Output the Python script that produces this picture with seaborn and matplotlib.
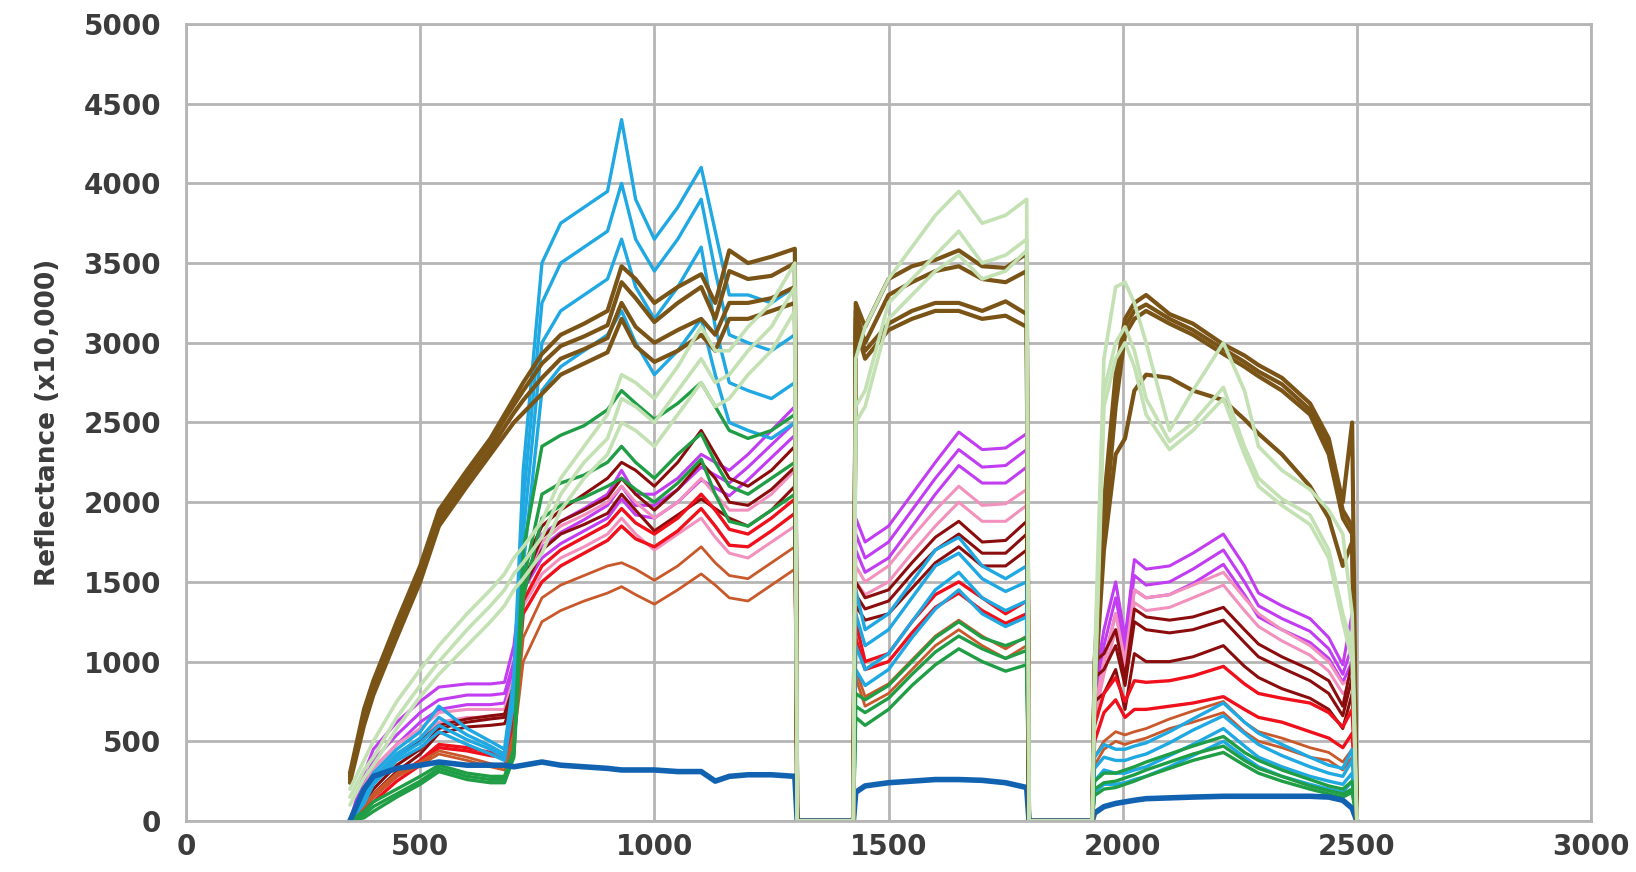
import matplotlib
matplotlib.use("Agg")
import matplotlib.pyplot as plt
import seaborn as sns
import pandas as pd

# wavelength knots (nm) of the three measured windows
WL_VNIR = [350, 380, 400, 450, 500, 540, 600, 650, 680, 700, 720, 760, 800,
           850, 900, 930, 960, 1000, 1050, 1100, 1130, 1160, 1200, 1250, 1300]
WL_SWIR1 = [1430, 1450, 1500, 1550, 1600, 1650, 1700, 1750, 1795]
WL_SWIR2 = [1940, 1960, 1985, 2005, 2025, 2050, 2100, 2150, 2215, 2260,
            2290, 2340, 2400, 2440, 2470, 2490, 2500]
# water absorption bands are set to zero
GAP1_WL = [1305, 1425]
GAP2_WL = [1800, 1935]
GAP_REFL = [0, 0]

# reflectance (x10,000), one row per spectrum
DARKBLUE_VNIR = [[0, 200, 280, 330, 350, 370, 350, 350, 350, 340, 350, 370, 350,
                  340, 330, 320, 320, 320, 310, 310, 250, 280, 290, 290, 280]]
DARKBLUE_SWIR1 = [[180, 220, 240, 250, 260, 260, 255, 240, 210]]
DARKBLUE_SWIR2 = [[50, 90, 110, 120, 130, 140, 145, 150, 155, 155, 155, 155, 155, 150, 130, 80, 0]]

BROWN_VNIR = [
    [300, 700, 880, 1250, 1600, 1950, 2200, 2400, 2550, 2650, 2750, 2930, 3050,
     3120, 3200, 3480, 3400, 3250, 3350, 3430, 3250, 3580, 3500, 3540, 3590],
    [280, 650, 850, 1220, 1570, 1920, 2170, 2370, 2520, 2610, 2700, 2870, 2980,
     3040, 3110, 3380, 3280, 3130, 3250, 3350, 3150, 3450, 3400, 3420, 3500],
    [260, 620, 820, 1180, 1530, 1880, 2130, 2330, 2470, 2560, 2640, 2780, 2900,
     2960, 3030, 3250, 3100, 3000, 3080, 3150, 3050, 3250, 3250, 3280, 3350],
    [240, 600, 790, 1150, 1500, 1850, 2100, 2300, 2420, 2500, 2560, 2680, 2800,
     2870, 2940, 3150, 2980, 2880, 2950, 3050, 2950, 3150, 3150, 3200, 3250],
]
BROWN_SWIR1 = [
    [3250, 3100, 3400, 3480, 3520, 3580, 3480, 3470, 3560],
    [3200, 3000, 3300, 3380, 3450, 3480, 3400, 3380, 3450],
    [3150, 2950, 3120, 3200, 3250, 3250, 3200, 3260, 3180],
    [3100, 2900, 3080, 3150, 3200, 3200, 3150, 3170, 3100],
]
BROWN_SWIR2 = [
    [1000, 2000, 2800, 3150, 3250, 3300, 3180, 3120, 2990, 2920, 2860, 2780, 2620, 2400, 2000, 2500, 0],
    [950, 1900, 2700, 3100, 3200, 3240, 3150, 3080, 2960, 2880, 2820, 2740, 2580, 2350, 1950, 1850, 0],
    [900, 1800, 2600, 3050, 3150, 3200, 3120, 3050, 2930, 2850, 2790, 2700, 2550, 2300, 1900, 1800, 0],
    [800, 1700, 2300, 2400, 2700, 2800, 2780, 2700, 2640, 2520, 2430, 2300, 2100, 1900, 1600, 1750, 0],
]

LIGHTBLUE_VNIR = [
    [0, 180, 300, 450, 560, 720, 580, 500, 450, 900, 2200, 3500, 3750,
     3850, 3950, 4400, 3900, 3650, 3850, 4100, 3700, 3300, 3300, 3250, 3350],
    [0, 150, 270, 420, 520, 650, 540, 470, 420, 850, 2000, 3250, 3500,
     3600, 3700, 4000, 3650, 3450, 3650, 3900, 3450, 3050, 3000, 2950, 3050],
    [0, 130, 250, 400, 490, 600, 510, 450, 400, 800, 1800, 3000, 3200,
     3300, 3400, 3650, 3350, 3150, 3350, 3600, 3100, 2750, 2700, 2650, 2750],
    [0, 110, 230, 380, 460, 560, 480, 420, 380, 750, 1600, 2700, 2850,
     2950, 3050, 3200, 3000, 2800, 2950, 3150, 2800, 2500, 2450, 2400, 2500],
]
LIGHTBLUE_SWIR1 = [
    [1450, 1200, 1300, 1500, 1700, 1780, 1600, 1520, 1600],
    [1300, 1100, 1200, 1400, 1600, 1680, 1520, 1440, 1500],
    [1100, 950, 1050, 1250, 1450, 1560, 1400, 1320, 1380],
    [950, 850, 950, 1150, 1330, 1450, 1300, 1220, 1280],
]
LIGHTBLUE_SWIR2 = [
    [400, 480, 450, 450, 470, 490, 560, 640, 740, 620, 550, 480, 400, 350, 330, 450, 0],
    [330, 400, 380, 380, 400, 420, 490, 570, 660, 550, 480, 410, 340, 300, 280, 380, 0],
    [250, 320, 300, 300, 320, 340, 410, 480, 580, 470, 400, 340, 280, 250, 230, 300, 0],
    [180, 230, 230, 240, 260, 280, 340, 410, 500, 400, 340, 280, 230, 200, 180, 250, 0],
]

GREEN_VNIR = [
    [0, 60, 120, 200, 280, 350, 300, 280, 280, 450, 1700, 2350, 2420,
     2480, 2580, 2700, 2620, 2520, 2620, 2750, 2600, 2450, 2400, 2450, 2550],
    [0, 40, 90, 170, 250, 330, 280, 260, 260, 420, 1500, 2050, 2120,
     2170, 2250, 2350, 2250, 2150, 2300, 2430, 2250, 2100, 2050, 2150, 2250],
    [0, 20, 60, 150, 230, 310, 260, 240, 240, 400, 1400, 1900, 1980,
     2030, 2100, 2150, 2080, 2000, 2120, 2270, 2050, 1880, 1850, 1950, 2050],
]
GREEN_SWIR1 = [
    [800, 760, 850, 1000, 1150, 1250, 1150, 1100, 1150],
    [720, 680, 770, 920, 1060, 1160, 1080, 1020, 1070],
    [650, 600, 700, 850, 980, 1080, 1000, 940, 980],
]
GREEN_SWIR2 = [
    [250, 300, 300, 320, 340, 370, 420, 470, 530, 430, 380, 320, 260, 220, 200, 250, 0],
    [200, 240, 250, 270, 290, 320, 370, 420, 470, 380, 330, 280, 220, 190, 170, 200, 0],
    [160, 200, 210, 230, 250, 280, 330, 380, 430, 350, 300, 250, 200, 170, 150, 180, 0],
]

PURPLE_VNIR = [
    [0, 300, 450, 620, 750, 840, 860, 860, 870, 1100, 1600, 1800, 1880,
     1960, 2050, 2200, 2050, 2050, 2150, 2300, 2250, 2200, 2300, 2450, 2600],
    [0, 250, 380, 540, 680, 760, 790, 790, 800, 1000, 1500, 1720, 1810,
     1890, 1980, 2100, 1980, 1980, 2080, 2220, 2170, 2120, 2220, 2360, 2500],
    [0, 200, 330, 480, 620, 700, 730, 730, 740, 950, 1450, 1650, 1740,
     1820, 1900, 2020, 1920, 1900, 2000, 2140, 2090, 2040, 2140, 2280, 2420],
]
PURPLE_SWIR1 = [
    [1900, 1750, 1850, 2050, 2250, 2440, 2330, 2340, 2430],
    [1800, 1650, 1750, 1950, 2150, 2330, 2220, 2230, 2330],
    [1700, 1560, 1650, 1850, 2050, 2230, 2120, 2120, 2220],
]
PURPLE_SWIR2 = [
    [850, 1200, 1500, 1150, 1640, 1580, 1600, 1680, 1800, 1600, 1430, 1350, 1270, 1150, 980, 1300, 0],
    [800, 1100, 1400, 1100, 1540, 1480, 1500, 1580, 1700, 1500, 1350, 1270, 1190, 1080, 920, 1100, 0],
    [750, 1000, 1300, 1050, 1450, 1400, 1420, 1490, 1610, 1420, 1280, 1200, 1120, 1020, 870, 1000, 0],
]

PINK_VNIR = [
    [0, 220, 330, 480, 580, 680, 700, 700, 700, 900, 1500, 1750, 1850,
     1920, 2000, 2100, 2000, 1900, 2000, 2150, 2050, 1950, 1950, 2050, 2200],
    [0, 180, 280, 420, 520, 620, 650, 650, 650, 850, 1350, 1550, 1650,
     1720, 1800, 1900, 1800, 1700, 1800, 1900, 1780, 1680, 1650, 1750, 1850],
]
PINK_SWIR1 = [
    [1600, 1500, 1600, 1780, 1950, 2100, 1980, 1990, 2080],
    [1500, 1420, 1500, 1680, 1850, 2000, 1880, 1880, 1980],
]
PINK_SWIR2 = [
    [700, 1000, 1300, 1000, 1450, 1400, 1420, 1480, 1560, 1400, 1300, 1200, 1100, 1000, 860, 900, 0],
    [650, 920, 1200, 950, 1370, 1320, 1340, 1400, 1480, 1320, 1220, 1130, 1040, 940, 800, 850, 0],
]

MAROON_VNIR = [
    [0, 150, 250, 400, 500, 600, 640, 660, 670, 850, 1600, 1850, 1950,
     2050, 2150, 2250, 2200, 2100, 2250, 2450, 2300, 2150, 2100, 2200, 2350],
    [0, 120, 200, 350, 450, 580, 620, 640, 650, 800, 1500, 1780, 1880,
     1950, 2030, 2150, 2050, 1950, 2080, 2250, 2150, 2000, 1980, 2080, 2220],
    [0, 100, 170, 310, 420, 550, 590, 600, 610, 750, 1450, 1700, 1800,
     1860, 1930, 2050, 1950, 1820, 1920, 2020, 1960, 1900, 1850, 1950, 2100],
]
MAROON_SWIR1 = [
    [1500, 1400, 1450, 1620, 1780, 1880, 1750, 1760, 1880],
    [1420, 1330, 1380, 1550, 1700, 1800, 1680, 1680, 1800],
    [1350, 1260, 1300, 1460, 1620, 1720, 1600, 1600, 1700],
]
MAROON_SWIR2 = [
    [1000, 1050, 1200, 900, 1330, 1280, 1260, 1280, 1340, 1200, 1110, 1030, 950, 880, 720, 1000, 0],
    [900, 950, 1100, 850, 1250, 1200, 1180, 1200, 1260, 1120, 1030, 960, 880, 800, 660, 900, 0],
    [750, 800, 950, 700, 1050, 1000, 1000, 1030, 1100, 970, 900, 830, 770, 700, 580, 800, 0],
]

RED_VNIR = [
    [0, 100, 150, 280, 380, 480, 460, 430, 420, 650, 1380, 1600, 1700,
     1780, 1860, 1960, 1870, 1800, 1900, 2050, 1950, 1830, 1800, 1900, 2020],
    [0, 80, 120, 250, 350, 460, 440, 410, 400, 600, 1300, 1500, 1600,
     1680, 1760, 1850, 1770, 1720, 1820, 1960, 1850, 1730, 1720, 1820, 1930],
]
RED_SWIR1 = [
    [1250, 1000, 1050, 1250, 1420, 1500, 1400, 1300, 1380],
    [1150, 950, 1000, 1180, 1340, 1430, 1320, 1240, 1300],
]
RED_SWIR2 = [
    [600, 800, 900, 750, 880, 870, 880, 910, 970, 860, 800, 770, 740, 680, 590, 700, 0],
    [500, 680, 760, 650, 700, 700, 720, 740, 780, 700, 650, 620, 560, 520, 460, 550, 0],
]

ORANGE_VNIR = [
    [0, 90, 150, 280, 350, 420, 380, 340, 320, 500, 1000, 1250, 1320,
     1380, 1430, 1470, 1420, 1360, 1450, 1550, 1480, 1400, 1380, 1480, 1580],
    [0, 100, 170, 300, 370, 440, 400, 360, 340, 550, 1150, 1400, 1480,
     1540, 1600, 1620, 1580, 1510, 1600, 1720, 1620, 1540, 1520, 1620, 1720],
]
ORANGE_SWIR1 = [
    [900, 720, 800, 950, 1100, 1200, 1100, 1020, 1100],
    [950, 780, 860, 1010, 1160, 1260, 1160, 1080, 1160],
]
ORANGE_SWIR2 = [
    [350, 450, 500, 480, 500, 520, 580, 620, 680, 560, 500, 460, 400, 380, 320, 400, 0],
    [400, 500, 560, 540, 560, 580, 640, 690, 750, 620, 560, 520, 460, 430, 370, 450, 0],
]

LIGHTGREEN_VNIR = [
    [200, 380, 500, 750, 950, 1100, 1300, 1450, 1550, 1650, 1720, 1880, 2150,
     2350, 2550, 2800, 2750, 2650, 2850, 3100, 2950, 2950, 3100, 3250, 3500],
    [150, 320, 400, 650, 850, 1000, 1200, 1350, 1450, 1550, 1620, 1780, 2050,
     2250, 2400, 2650, 2600, 2500, 2700, 2900, 2750, 2800, 2950, 3100, 3350],
    [100, 270, 350, 580, 780, 920, 1100, 1250, 1350, 1450, 1520, 1680, 1950,
     2150, 2300, 2500, 2450, 2350, 2550, 2750, 2600, 2650, 2800, 2950, 3200],
]
LIGHTGREEN_SWIR1 = [
    [2900, 3100, 3400, 3600, 3800, 3950, 3750, 3800, 3900],
    [2600, 2700, 3250, 3400, 3550, 3700, 3500, 3550, 3650],
    [2500, 2600, 3150, 3300, 3450, 3550, 3400, 3450, 3580],
]
LIGHTGREEN_SWIR2 = [
    [1000, 2900, 3350, 3380, 3250, 3000, 2450, 2700, 3000, 2700, 2350, 2200, 2080, 1950, 1800, 1300, 0],
    [800, 2700, 3000, 3100, 2950, 2650, 2380, 2500, 2720, 2350, 2150, 2020, 1920, 1700, 1300, 1100, 0],
    [700, 2600, 2900, 3000, 2850, 2550, 2330, 2450, 2650, 2300, 2100, 1980, 1860, 1650, 1250, 1000, 0],
]


def spectra_frame(name, vnir, swir1, swir2):
    """Long table of all spectra of one group, gaps included"""
    wl = WL_VNIR + GAP1_WL + WL_SWIR1 + GAP2_WL + WL_SWIR2
    parts = []
    for i, (a, b, c) in enumerate(zip(vnir, swir1, swir2)):
        refl = a + GAP_REFL + b + GAP_REFL + c
        parts.append(pd.DataFrame({'wavelength': wl, 'reflectance': refl,
                                   'spectrum': f'{name}_{i}'}))
    return pd.concat(parts, ignore_index=True)


# drawing order, colour, line width
groups = [
    ('purple', PURPLE_VNIR, PURPLE_SWIR1, PURPLE_SWIR2, '#c23cf2', 2.2),
    ('pink', PINK_VNIR, PINK_SWIR1, PINK_SWIR2, '#f291bd', 2.2),
    ('maroon', MAROON_VNIR, MAROON_SWIR1, MAROON_SWIR2, '#8b0c0c', 2.2),
    ('red', RED_VNIR, RED_SWIR1, RED_SWIR2, '#f0101c', 2.4),
    ('orange', ORANGE_VNIR, ORANGE_SWIR1, ORANGE_SWIR2, '#c9582a', 2.0),
    ('lightblue', LIGHTBLUE_VNIR, LIGHTBLUE_SWIR1, LIGHTBLUE_SWIR2, '#1fa8e2', 2.4),
    ('green', GREEN_VNIR, GREEN_SWIR1, GREEN_SWIR2, '#1f9e45', 2.4),
    ('darkblue', DARKBLUE_VNIR, DARKBLUE_SWIR1, DARKBLUE_SWIR2, '#1262b2', 4.0),
    ('brown', BROWN_VNIR, BROWN_SWIR1, BROWN_SWIR2, '#7a5416', 3.0),
    ('lightgreen', LIGHTGREEN_VNIR, LIGHTGREEN_SWIR1, LIGHTGREEN_SWIR2, '#c3e1b3', 2.6),
]

sns.set_style('white')
plt.rcParams['font.family'] = ['DejaVu Sans']

fig, ax = plt.subplots(figsize=(16.36, 8.72), dpi=100)
fig.subplots_adjust(left=0.1137, right=0.9725, top=0.9725, bottom=0.0585)

grid_color = '#b5b5b5'
ax.set_axisbelow(True)
ax.grid(True, color=grid_color, linewidth=2)

for name, vnir, swir1, swir2, color, lw in groups:
    df = spectra_frame(name, vnir, swir1, swir2)
    sns.lineplot(data=df, x='wavelength', y='reflectance', units='spectrum',
                 estimator=None, sort=False, color=color, linewidth=lw,
                 ax=ax, legend=False)

ax.set_xlim(0, 3000)
ax.set_ylim(0, 5000)
ax.set_xticks(range(0, 3001, 500))
ax.set_yticks(range(0, 5001, 500))
ax.tick_params(length=0, labelsize=20, labelcolor='#3c3c3c')
ax.tick_params(axis='y', pad=18)
ax.tick_params(axis='x', pad=9)
for lbl in ax.get_xticklabels() + ax.get_yticklabels():
    lbl.set_fontweight('bold')

ax.set_xlabel('')
ax.set_ylabel('Reflectance (x10,000)', fontsize=19, fontweight='bold',
              color='#3c3c3c', labelpad=16)

for side in ['left', 'right', 'top', 'bottom']:
    ax.spines[side].set_visible(True)
    ax.spines[side].set_color(grid_color)
    ax.spines[side].set_linewidth(2)

plt.savefig('out.png', dpi=100)
